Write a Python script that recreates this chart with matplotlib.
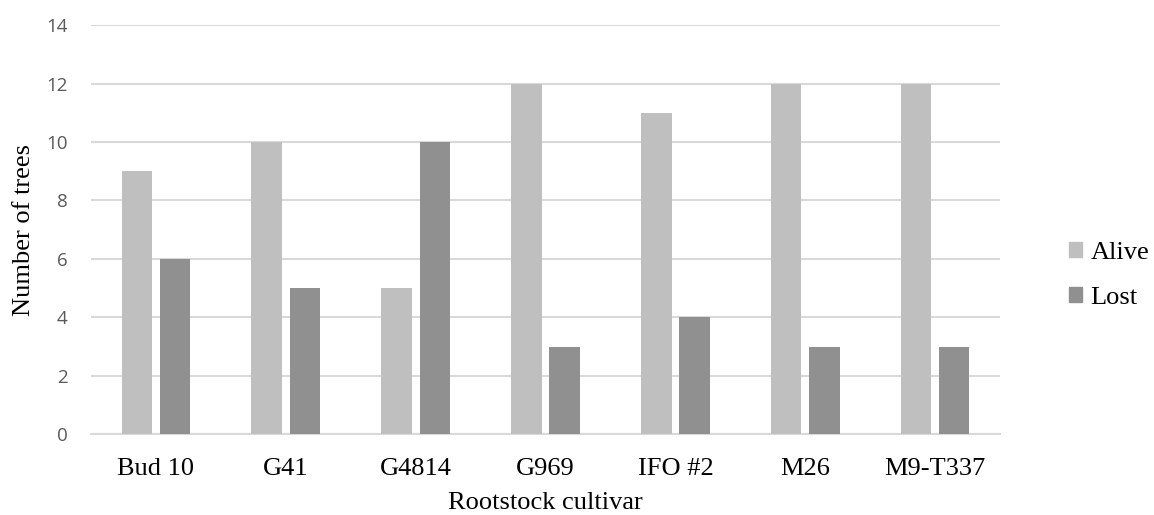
import matplotlib
matplotlib.use("Agg")
import matplotlib.pyplot as plt
import numpy as np
from matplotlib.patches import Patch

categories = ["Bud 10", "G41", "G4814", "G969", "IFO #2", "M26", "M9-T337"]
alive = [9, 10, 5, 12, 11, 12, 12]
lost = [6, 5, 10, 3, 4, 3, 3]
yticks = [0, 2, 4, 6, 8, 10, 12, 14]

fig = plt.figure(figsize=(11.54, 5.15), dpi=100)
ax = fig.add_axes([0.0789, 0.157, 0.7877, 0.794])

x = np.arange(len(categories))
w = 0.235
off = 0.147
ax.bar(x - off, alive, w, color="#BFBFBF", label="Alive", zorder=3)
ax.bar(x + off, lost, w, color="#909090", label="Lost", zorder=3)

ax.set_xlim(-0.5, len(categories) - 0.5)
ax.set_ylim(0, 14)
ax.set_yticks(yticks)
ax.yaxis.grid(True, color="#D9D9D9", linewidth=1.5, zorder=0)
ax.set_axisbelow(True)
for s in ["top", "right", "left"]:
    ax.spines[s].set_visible(False)
ax.spines["bottom"].set_color("#D9D9D9")
ax.spines["bottom"].set_linewidth(1.5)
ax.tick_params(axis="both", length=0)
ax.tick_params(axis="y", pad=17, labelsize=13.5, labelcolor="#595959")
ax.set_yticklabels([str(t) for t in yticks], family="Open Sans")
ax.set_xticks(x)
ax.set_xticklabels(categories, family="Liberation Serif", fontsize=19)
ax.tick_params(axis="x", pad=17)
ax.set_xlabel("Rootstock cultivar", family="Liberation Serif", fontsize=19, labelpad=9)
ax.set_ylabel("Number of trees", family="Liberation Serif", fontsize=19, labelpad=8)

handles = [Patch(color="#BFBFBF", label="Alive"), Patch(color="#909090", label="Lost")]
fig.legend(handles=handles, loc="center left", bbox_to_anchor=(0.906, 0.465),
           frameon=False, prop={"family": "Liberation Serif", "size": 19},
           handlelength=0.5, handleheight=0.5, handletextpad=0.3, labelspacing=0.85)

fig.savefig("out.png", dpi=100)
